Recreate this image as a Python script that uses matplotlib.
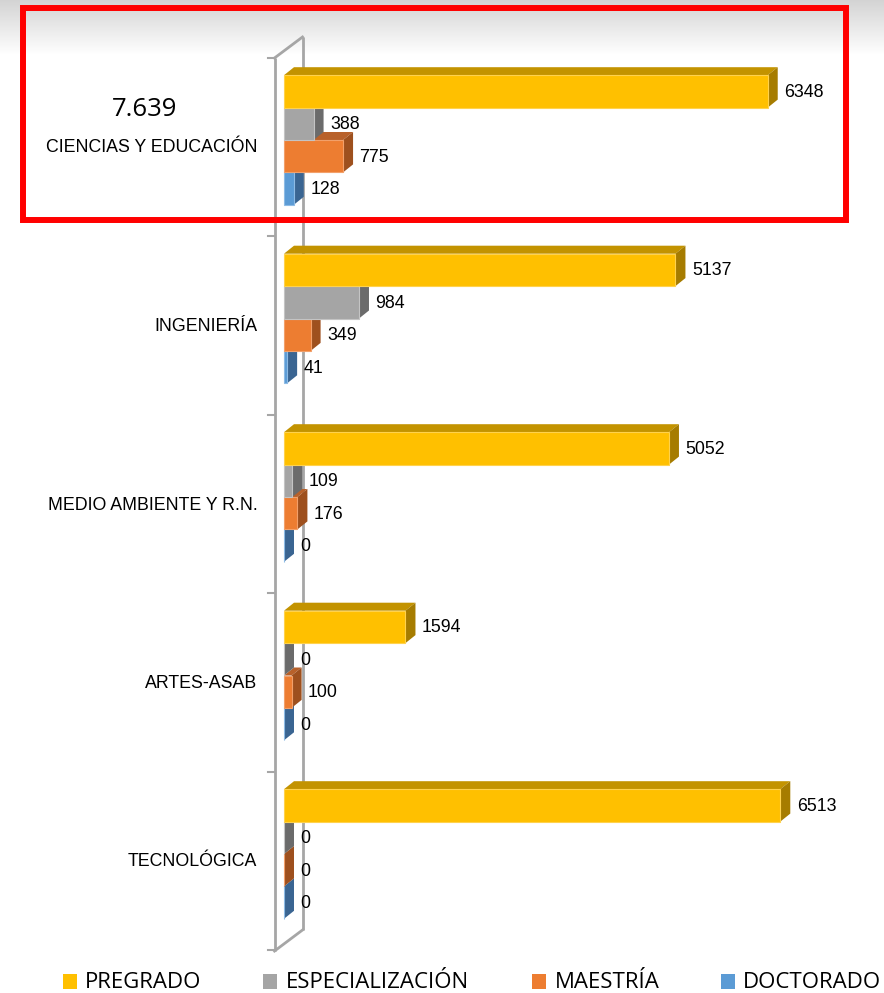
import numpy as np
import matplotlib
matplotlib.use("Agg")
import matplotlib.pyplot as plt
from matplotlib.patches import Polygon, Rectangle
from matplotlib import font_manager as fm

# ---------------- data ----------------
categories = ["CIENCIAS Y EDUCACIÓN", "INGENIERÍA", "MEDIO AMBIENTE Y R.N.",
              "ARTES-ASAB", "TECNOLÓGICA"]
series_names = ["PREGRADO", "ESPECIALIZACIÓN", "MAESTRÍA", "DOCTORADO"]
pregrado = [6348, 5137, 5052, 1594, 6513]
especializacion = [388, 984, 109, 0, 0]
maestria = [775, 349, 176, 100, 0]
doctorado = [128, 41, 0, 0, 0]
highlight_total = "7.639"

series_values = [pregrado, especializacion, maestria, doctorado]
front_colors = ["#FFC000", "#A5A5A5", "#ED7D31", "#5B9BD5"]
top_colors = ["#C39300", "#7F7F7F", "#B8612A", "#44719C"]
side_colors = ["#A67C00", "#6B6B6B", "#9E501E", "#3A6592"]
edge_colors = ["#FFD24D", "#C4C4C4", "#F2A06A", "#8DBBE5"]

# ---------------- fonts ----------------
names = {f.name for f in fm.fontManager.ttflist}
narrow = "Liberation Sans Narrow" if "Liberation Sans Narrow" in names else "Liberation Sans"
wide = "Open Sans" if "Open Sans" in names else "DejaVu Sans"
lab_size = 14.5 if narrow == "Liberation Sans Narrow" else 12.8
val_size = 14.5 if narrow == "Liberation Sans Narrow" else 12.8

W, H = 884, 993
fig = plt.figure(figsize=(W / 100, H / 100), dpi=100)

# gradient strip at the top
gax = fig.add_axes([0, 1 - 55 / H, 1, 55 / H])
grad = np.linspace(0.83, 1.0, 55).reshape(-1, 1)
gax.imshow(np.dstack([grad, grad, grad]), aspect="auto", extent=[0, 1, 0, 1],
           interpolation="bilinear")
gax.set_axis_off()

ax = fig.add_axes([0, 0, 1, 1])
ax.patch.set_alpha(0)

# pixel mapping used only to set the axis limits
x0_px, px_per_unit = 284.0, 0.0762
y0_px, px_per_cat = 140.0, 178.5
ax.set_xlim(-x0_px / px_per_unit, (W - x0_px) / px_per_unit)
ax.set_ylim((H - y0_px) / px_per_cat, -y0_px / px_per_cat)
ax.set_axis_off()

h = 32.4 / px_per_cat          # bar thickness (category units)
dx = 10 / px_per_unit          # depth in value units
dy = -8 / px_per_cat           # depth in category units
offsets = [-1.5 * h, -0.5 * h, 0.5 * h, 1.5 * h]

# back wall (3D axis panel)
wall_c = "#A6A6A6"
xl, xr = -9.5 / px_per_unit, 18.5 / px_per_unit
yt_l, yb_l = -0.4594, 4.5436
yt_r, yb_r = -0.5770, 4.4258
ax.plot([xl, xl], [yt_l, yb_l], color=wall_c, lw=2, zorder=1, solid_capstyle="butt")
ax.plot([xr, xr], [yt_r, yb_r], color=wall_c, lw=2, zorder=1, solid_capstyle="butt")
ax.plot([xl, xr], [yt_l, yt_r], color=wall_c, lw=2, zorder=1)
ax.plot([xl, xr], [yb_l, yb_r], color=wall_c, lw=2, zorder=1)
for k in range(6):
    yk = yt_l + k
    ax.plot([xl - 6.5 / px_per_unit, xl], [yk, yk], color=wall_c, lw=1.5, zorder=1)

# bars (drawn bottom series first so upper bars cover tops)
ycat = np.arange(len(categories))
for s in range(3, -1, -1):
    vals = series_values[s]
    z = 10 + (3 - s) * 3
    ys = ycat + offsets[s]
    ax.barh(ys, vals, height=h, left=0, color=front_colors[s],
            edgecolor=edge_colors[s], linewidth=0.8, zorder=z + 2)
    for yi, v in zip(ys, vals):
        top = yi - h / 2
        bot = yi + h / 2
        ax.add_patch(Polygon([(0, top), (v, top), (v + dx, top + dy), (dx, top + dy)],
                             closed=True, facecolor=top_colors[s], edgecolor="none",
                             zorder=z))
        ax.add_patch(Polygon([(v, top), (v + dx, top + dy), (v + dx, bot + dy), (v, bot)],
                             closed=True, facecolor=side_colors[s], edgecolor="none",
                             zorder=z + 1))
        ax.text(v + dx + 6.5 / px_per_unit, yi + 1 / px_per_cat, f"{v}",
                ha="left", va="center", fontsize=val_size, family=narrow,
                color="#000000", zorder=30)

# category labels
for i, c in enumerate(categories):
    ax.text(-26.5 / px_per_unit, i + 8 / px_per_cat, c, ha="right", va="center",
            fontsize=lab_size, family=narrow, color="#000000")

ax.text((145 - x0_px) / px_per_unit, (110 - y0_px) / px_per_cat, highlight_total,
        ha="center", va="center", fontsize=18.5, family=wide, color="#000000")

# red highlight box (figure pixel coordinates)
fig.patches.append(Rectangle((22.5 / W, 1 - 220 / H), (845.5 - 22.5) / W, (220 - 8) / H,
                             transform=fig.transFigure, fill=False,
                             edgecolor="#FF0000", linewidth=4.3, zorder=50))

# legend (manual)
leg_marker_x = [63, 263, 532, 721]
leg_text_x = [85, 286, 555, 743]
for s, name in enumerate(series_names):
    fig.patches.append(Rectangle((leg_marker_x[s] / W, 1 - 989 / H), 14 / W, 15 / H,
                                 transform=fig.transFigure, facecolor=front_colors[s],
                                 edgecolor="none"))
    fig.text(leg_text_x[s] / W, 1 - 982 / H, name, ha="left", va="center",
             fontsize=16, family=wide, color="#000000")

fig.savefig("out.png", dpi=100)
